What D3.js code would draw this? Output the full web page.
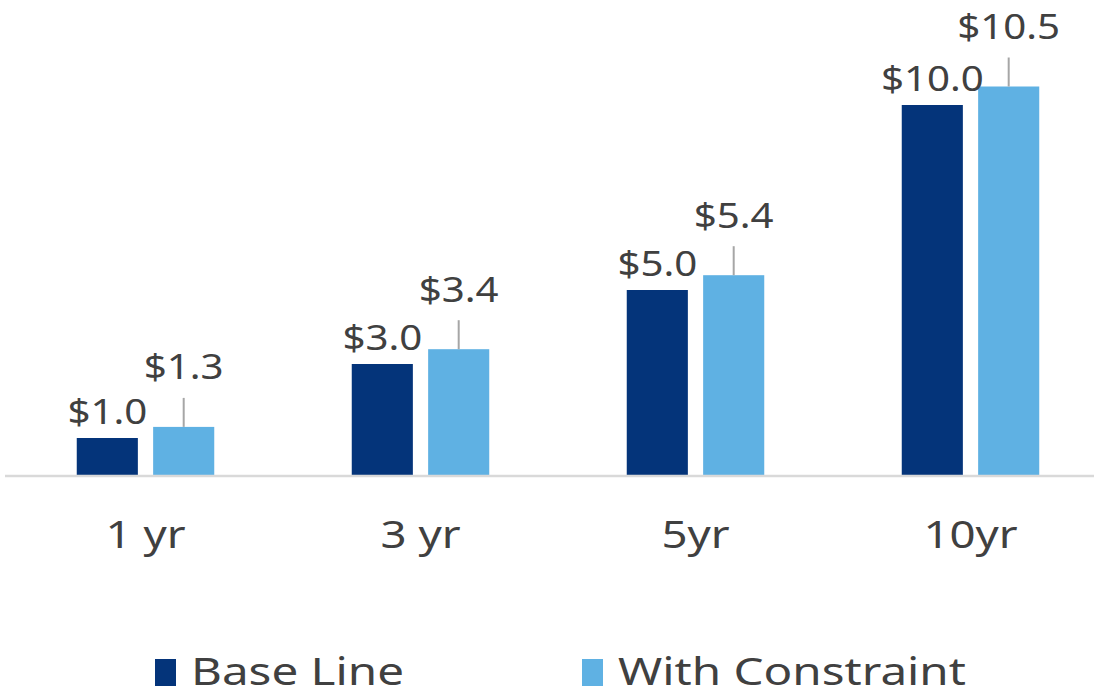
<!DOCTYPE html>
<html>
<head>
<meta charset="utf-8">
<script src="https://cdn.jsdelivr.net/npm/d3@7"></script>
<style>
  html, body { margin: 0; padding: 0; background: #ffffff; }
  svg { display: block; }
  text { font-family: "Noto Sans", "Open Sans", sans-serif; fill: #404040; }
</style>
</head>
<body>
<svg id="chart" width="1094" height="696"></svg>
<script>
const categories = ["1 yr", "3 yr", "5yr", "10yr"];
const seriesNames = ["Base Line", "With Constraint"];
const baseLine = [1.0, 3.0, 5.0, 10.0];
const withConstraint = [1.3, 3.4, 5.4, 10.5];
const seriesColors = ["#04347a", "#5fb1e3"];

const svg = d3.select("#chart");
const W = 1094, H = 696;

const x0 = d3.scaleBand().domain(categories).range([8, 1108]).paddingInner(0.5).paddingOuter(0.25);
const x1 = d3.scaleBand().domain(seriesNames).range([0, x0.bandwidth()]).paddingInner(0.2);
const y = d3.scaleLinear().domain([0, 12]).range([475, 31]);

const data = categories.map((c, i) => ({ cat: c, values: [baseLine[i], withConstraint[i]] }));

const groups = svg.append("g").selectAll("g").data(data).join("g")
  .attr("transform", d => `translate(${x0(d.cat)},0)`);

groups.selectAll("rect").data(d => d.values.map((v, j) => ({ v, s: seriesNames[j], j })))
  .join("rect")
  .attr("x", d => x1(d.s))
  .attr("y", d => y(d.v))
  .attr("width", x1.bandwidth())
  .attr("height", d => y(0) - y(d.v))
  .attr("fill", d => seriesColors[d.j]);

// leader lines for With Constraint
groups.append("line")
  .attr("x1", d => x1(seriesNames[1]) + x1.bandwidth() / 2)
  .attr("x2", d => x1(seriesNames[1]) + x1.bandwidth() / 2)
  .attr("y1", d => y(d.values[1]))
  .attr("y2", d => y(d.values[1]) - 29)
  .attr("stroke", "#a6a6a6")
  .attr("stroke-width", 2);

const sx = 1.15;
// base labels
groups.append("g")
  .attr("transform", d => `translate(${x1(seriesNames[0]) + x1.bandwidth() / 2},${y(d.values[0]) - 14}) scale(${sx},1)`)
  .append("text")
  .attr("text-anchor", "middle")
  .attr("font-size", 35)
  .text(d => "$" + d3.format(".1f")(d.values[0]));

groups.append("g")
  .attr("transform", d => `translate(${x1(seriesNames[1]) + x1.bandwidth() / 2},${y(d.values[1]) - 47.5}) scale(${sx},1)`)
  .append("text")
  .attr("text-anchor", "middle")
  .attr("font-size", 35)
  .text(d => "$" + d3.format(".1f")(d.values[1]));

// x axis
const xAxis = svg.append("g").attr("transform", `translate(0,${y(0)})`)
  .call(d3.axisBottom(x0).tickSize(0).tickPadding(0));
xAxis.select(".domain").remove();
xAxis.append("line").attr("x1", 5).attr("x2", W).attr("y1", 1).attr("y2", 1)
  .attr("stroke", "#d9d9d9").attr("stroke-width", 2.5);
xAxis.selectAll(".tick text")
  .attr("y", 0)
  .attr("dy", 0)
  .attr("transform", "translate(0,73) scale(1.2,1)")
  .attr("font-size", 38)
  .attr("fill", "#404040")
  .style("font-family", "'Noto Sans', sans-serif");

// legend
const legend = svg.append("g");
const legendX = [155, 582];
seriesNames.forEach((s, i) => {
  const g = legend.append("g").attr("transform", `translate(${legendX[i]},0)`);
  g.append("rect").attr("x", 0).attr("y", 659).attr("width", 21).attr("height", 27).attr("fill", seriesColors[i]);
  g.append("g").attr("transform", "translate(36,685) scale(1.22,1)")
    .append("text").attr("x", 0).attr("y", 0).attr("font-size", 39).text(s);
});
</script>
</body>
</html>
